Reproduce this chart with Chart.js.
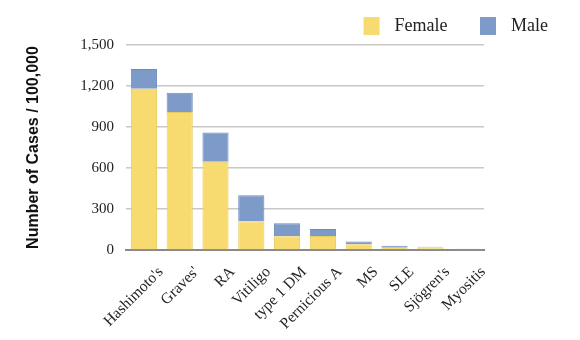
<!DOCTYPE html>
<html lang="en">
<head>
  <meta charset="UTF-8">
  <title>Autoimmune Disease Incidence</title>
  <script src="https://cdn.jsdelivr.net/npm/chart.js"></script>
  <style>
    html, body { margin: 0; padding: 0; background: #fff; }
    #wrap { width: 580px; height: 340px; position: relative; }
  </style>
</head>
<body>
  <div id="wrap"><canvas id="myChart"></canvas></div>

  <script>
    // Data
    const diseases = ["Hashimoto's", "Graves'", 'RA', 'Vitiligo', 'type 1 DM', 'Pernicious A', 'MS', 'SLE', 'Sjögren\'s', 'Myositis'];
    const female = [1180, 1010, 645, 210, 100, 102, 42, 22, 18, 8];
    const male = [145, 140, 215, 190, 95, 52, 20, 10, 6, 2];
    const yTicks = [0, 300, 600, 900, 1200, 1500];

    const serif = '"Liberation Serif", "Times New Roman", serif';

    const ctx = document.getElementById('myChart').getContext('2d');
    const chart = new Chart(ctx, {
      type: 'bar',
      data: {
        labels: diseases,
        datasets: [
          {
            label: 'Female',
            data: female,
            backgroundColor: 'rgb(247, 219, 112)',
            borderColor: 'rgb(232, 203, 95)',
            borderWidth: 1,
            stack: 's'
          },
          {
            label: 'Male',
            data: male,
            backgroundColor: 'rgb(125, 154, 201)',
            borderColor: 'rgb(108, 138, 190)',
            borderWidth: 1,
            stack: 's'
          }
        ]
      },
      options: {
        responsive: true,
        maintainAspectRatio: false,
        animation: false,
        layout: { padding: { top: 7, right: 22, bottom: 0, left: 0 } },
        datasets: { bar: { categoryPercentage: 1, barPercentage: 0.73 } },
        plugins: {
          legend: {
            position: 'top',
            align: 'end',
            labels: {
              boxWidth: 16,
              boxHeight: 18,
              padding: 10,
              color: '#222',
              font: { family: serif, size: 18 },
              // wider gaps between swatch, label and next item, like the original
              generateLabels: (c) => {
                const items = Chart.defaults.plugins.legend.labels.generateLabels(c);
                items.forEach((it, i) => {
                  it.text = '\u2004' + it.text + (i < items.length - 1 ? '\u2003\u2005' : '');
                  it.lineWidth = 0;
                });
                return items;
              }
            }
          },
          tooltip: { enabled: false }
        },
        scales: {
          x: {
            stacked: true,
            grid: { display: false },
            border: { display: true, color: '#8a8a8a', width: 2 },
            ticks: {
              minRotation: 45,
              maxRotation: 45,
              labelOffset: 17,
              color: '#222',
              padding: 5,
              font: { family: serif, size: 15.5 }
            },
            afterFit: (scale) => { scale.height = 90; }
          },
          y: {
            stacked: true,
            min: 0,
            max: 1500,
            afterBuildTicks: (scale) => { scale.ticks = yTicks.map(v => ({ value: v })); },
            grid: {
              color: '#c8c8c8',
              lineWidth: 1.5,
              drawTicks: false
            },
            border: { display: false },
            ticks: {
              padding: 12,
              color: '#222',
              font: { family: serif, size: 15 },
              callback: (v) => v.toLocaleString('en-US')
            },
            title: {
              display: true,
              text: 'Number of Cases / 100,000',
              color: '#111',
              padding: { top: 24, bottom: 0 },
              font: { family: '"Liberation Sans", Arial, sans-serif', size: 16, weight: 'bold' }
            },
            afterFit: (scale) => { scale.width = 126; }
          },
          // empty right axis to keep the plot narrower than the legend row
          y2: {
            position: 'right',
            display: true,
            grid: { display: false, drawTicks: false },
            border: { display: false },
            ticks: { display: false },
            afterFit: (scale) => { scale.width = 74; }
          }
        }
      }
    });
  </script>
</body>
</html>
